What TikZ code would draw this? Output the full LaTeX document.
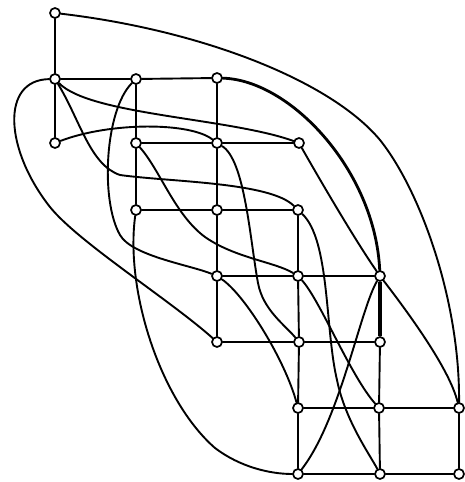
\documentclass[tikz,border=0pt]{standalone}
\begin{document}
\begin{tikzpicture}[x=1pt,y=-1pt,
  vtx/.style={circle,draw,fill=white,inner sep=0pt,minimum size=10pt,line width=1.7pt},
  edge/.style={line width=1.9pt,line cap=round},
  heavy/.style={line width=2.8pt,line cap=round},
  heavier/.style={line width=3.6pt}]
\useasboundingbox (0,0) rectangle (465,482);
% vertices
\node[vtx] (A) at (55,13) {};
\node[vtx] (B) at (55,79) {};
\node[vtx] (C) at (136,79) {};
\node[vtx] (D) at (217,78) {};
\node[vtx] (E) at (55,143) {};
\node[vtx] (F) at (136,143) {};
\node[vtx] (G) at (217,143) {};
\node[vtx] (H) at (299,143) {};
\node[vtx] (I) at (136,210) {};
\node[vtx] (J) at (217,210) {};
\node[vtx] (K) at (298,210) {};
\node[vtx] (L) at (217,276) {};
\node[vtx] (M) at (298,276) {};
\node[vtx] (N) at (380,276) {};
\node[vtx] (O) at (217,342) {};
\node[vtx] (P) at (299,342) {};
\node[vtx] (Q) at (380,342) {};
\node[vtx] (R) at (298,408) {};
\node[vtx] (S) at (379,408) {};
\node[vtx] (T) at (459,408) {};
\node[vtx] (U) at (298,474) {};
\node[vtx] (V) at (380,474) {};
\node[vtx] (W) at (459,474) {};
% grid edges
\draw[edge] (A) -- (B);
\draw[edge] (B) -- (C);
\draw[edge] (C) -- (D);
\draw[edge] (B) -- (E);
\draw[edge] (C) -- (F);
\draw[edge] (D) -- (G);
\draw[edge] (F) -- (G);
\draw[edge] (G) -- (H);
\draw[edge] (F) -- (I);
\draw[edge] (G) -- (J);
\draw[edge] (I) -- (J);
\draw[edge] (J) -- (K);
\draw[edge] (J) -- (L);
\draw[edge] (K) -- (M);
\draw[edge] (L) -- (M);
\draw[edge] (M) -- (N);
\draw[edge] (L) -- (O);
\draw[edge] (M) -- (P);
\draw[heavier] (N) -- (Q);
\draw[edge] (O) -- (P);
\draw[edge] (P) -- (Q);
\draw[edge] (P) -- (R);
\draw[edge] (Q) -- (S);
\draw[edge] (R) -- (S);
\draw[edge] (S) -- (T);
\draw[edge] (R) -- (U);
\draw[edge] (S) -- (V);
\draw[edge] (T) -- (W);
\draw[edge] (U) -- (V);
\draw[edge] (V) -- (W);
% curved edges
\draw[edge] (A) .. controls (200,30) and (330,80) .. (380,140) .. controls (420,190) and (460,300) .. (T);
\draw[heavy] (D) .. controls (290,80) and (375,170) .. (N);
\draw[edge] (H) .. controls (320,180) and (355,240) .. (N);
\draw[edge] (B) .. controls (90,115) and (230,118) .. (H);
\draw[edge] (E) .. controls (110,122) and (190,122) .. (G);
\draw[edge] (B) .. controls (80,120) and (90,165) .. (120,175) .. controls (170,182) and (270,182) .. (K);
\draw[edge] (B) .. controls (0,80) and (5,150) .. (50,207) .. controls (78,242) and (170,300) .. (O);
\draw[edge] (C) .. controls (105,110) and (100,200) .. (120,235) .. controls (132,256) and (190,265) .. (L);
\draw[edge] (I) .. controls (125,290) and (160,400) .. (215,448) .. controls (240,467) and (270,474) .. (U);
\draw[edge] (F) .. controls (160,170) and (175,215) .. (205,237) .. controls (235,258) and (275,262) .. (M);
\draw[edge] (G) .. controls (245,160) and (250,240) .. (258,283) .. controls (263,310) and (285,325) .. (P);
\draw[edge] (L) .. controls (245,295) and (285,360) .. (R);
\draw[edge] (K) .. controls (330,240) and (325,330) .. (337,380) .. controls (345,420) and (370,455) .. (V);
\draw[edge] (M) .. controls (320,300) and (350,375) .. (S);
\draw[edge] (N) .. controls (360,310) and (340,420) .. (U);
\draw[edge] (N) .. controls (410,315) and (450,370) .. (T);
\end{tikzpicture}
\end{document}
